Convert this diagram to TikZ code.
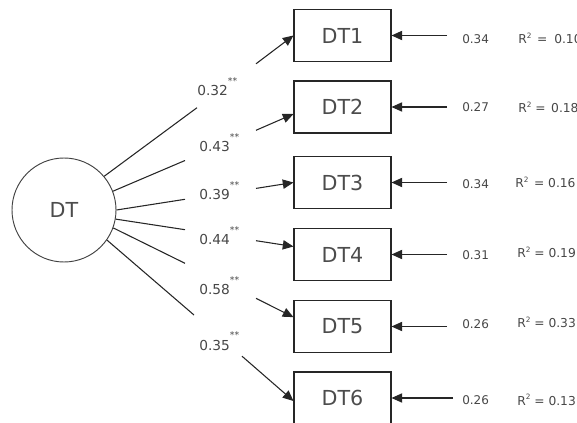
\documentclass[tikz,border=0pt]{standalone}
\usepackage{fontspec}
\setmainfont{DejaVu Sans}
\usetikzlibrary{arrows.meta}
% significance stars and R-squared label
\newcommand\sigstars{\raisebox{8.6pt}{\fontsize{7}{7}\selectfont **}}
\newcommand\rsq{R\raisebox{3.9pt}{\fontsize{5.5}{5.5}\selectfont 2}}
\begin{document}
\begin{tikzpicture}[x=0.75pt,y=-0.75pt,
  ln/.style={draw=black!85, line width=0.8pt},
  arr/.style={ln, -{Triangle[length=8pt,width=7pt]}},
  latent/.style={circle, draw=black!75, line width=0.7pt, minimum size=78pt,
    inner sep=0pt, font=\fontsize{15.5}{18}\selectfont, text=black!70},
  obs/.style={rectangle, draw=black!85, line width=0.8pt, minimum width=72.75pt,
    minimum height=39pt, inner sep=0pt, font=\fontsize{15.5}{18}\selectfont, text=black!70},
  coef/.style={anchor=base west, inner sep=0pt, font=\fontsize{10.3}{12}\selectfont, text=black!72},
  err/.style={anchor=base west, inner sep=0pt, font=\fontsize{9}{11}\selectfont, text=black!72},
  rsqlab/.style={anchor=base west, inner sep=0pt, font=\fontsize{9.2}{11}\selectfont, text=black!72}]
\useasboundingbox (0,0) rectangle (577,423);
\clip (0,0) rectangle (577,423);

% latent factor and its indicators
\node[latent] (DT) at (64,210) {DT};
\node[obs] (DT1) at (342.5,35.5) {DT1};
\node[obs] (DT2) at (342.5,107) {DT2};
\node[obs] (DT3) at (342.5,182.5) {DT3};
\node[obs] (DT4) at (342.5,254.5) {DT4};
\node[obs] (DT5) at (342.5,326.5) {DT5};
\node[obs] (DT6) at (342.5,398) {DT6};

% loadings
\node[coef] (c1) at (197,96) {0.32\sigstars};
\node[coef] (c2) at (199,151.7) {0.43\sigstars};
\node[coef] (c3) at (199,200) {0.39\sigstars};
\node[coef] (c4) at (199,245) {0.44\sigstars};
\node[coef] (c5) at (199,295) {0.58\sigstars};
\node[coef] (c6) at (199,350) {0.35\sigstars};

% breaks in the loading paths around the labels
\coordinate (g1a) at (197,107.7); \coordinate (g1b) at (256,63.8);
\coordinate (g2a) at (185,160.5); \coordinate (g2b) at (256,130.3);
\coordinate (g3a) at (185,199.3); \coordinate (g3b) at (256,188.4);
\coordinate (g4a) at (185,229.7); \coordinate (g4b) at (256,240.7);
\coordinate (g5a) at (185,263.3); \coordinate (g5b) at (256,298.3);
\coordinate (g6a) at (194,315);   \coordinate (g6b) at (242,356.2);

\draw[ln] (DT.40) -- (g1a);  \draw[arr] (g1b) -- (DT1.west);
\draw[ln] (DT.21) -- (g2a);  \draw[arr] (g2b) -- ([yshift=-5.25pt]DT2.west);
\draw[ln] (DT.0) -- (g3a);   \draw[arr] (g3b) -- (DT3.west);
\draw[ln] (DT.-10) -- (g4a); \draw[arr] (g4b) -- ([yshift=6pt]DT4.west);
\draw[ln] (DT.-20) -- (g5a); \draw[arr] (g5b) -- ([yshift=7pt]DT5.west);
\draw[ln] (DT.-35) -- (g6a); \draw[arr] (g6b) -- ([yshift=-2.25pt]DT6.west);

% error terms
\coordinate (e1) at (447,35.5);
\coordinate (e2) at (447,107);
\coordinate (e3) at (447,182.5);
\coordinate (e4) at (447,254.5);
\coordinate (e5) at (447,326.5);
\coordinate (e6) at (453,398);
\draw[arr] (e1) -- (DT1.east);
\draw[arr] (e2) -- (DT2.east);
\draw[arr] (e3) -- (DT3.east);
\draw[arr] (e4) -- (DT4.east);
\draw[arr] (e5) -- (DT5.east);
\draw[arr] (e6) -- (DT6.east);

\node[err] (v1) at (462,43.5) {0.34};
\node[err] (v2) at (462,111.7) {0.27};
\node[err] (v3) at (462,188.3) {0.34};
\node[err] (v4) at (462,259.3) {0.31};
\node[err] (v5) at (462,328.3) {0.26};
\node[err] (v6) at (462,404) {0.26};

\node[rsqlab] (r1) at (518,43.3) {\rsq\hspace{4.2pt}=\hspace{5.2pt}0.10};
\node[rsqlab] (r2) at (518,113) {\rsq{} =\hspace{4.2pt}0.18};
\node[rsqlab] (r3) at (515,188) {\rsq\hspace{4.2pt}= 0.16};
\node[rsqlab] (r4) at (517,258) {\rsq{} = 0.19};
\node[rsqlab] (r5) at (517,328) {\rsq{} = 0.33};
\node[rsqlab] (r6) at (517,405) {\rsq{} = 0.13};
\end{tikzpicture}
\end{document}
